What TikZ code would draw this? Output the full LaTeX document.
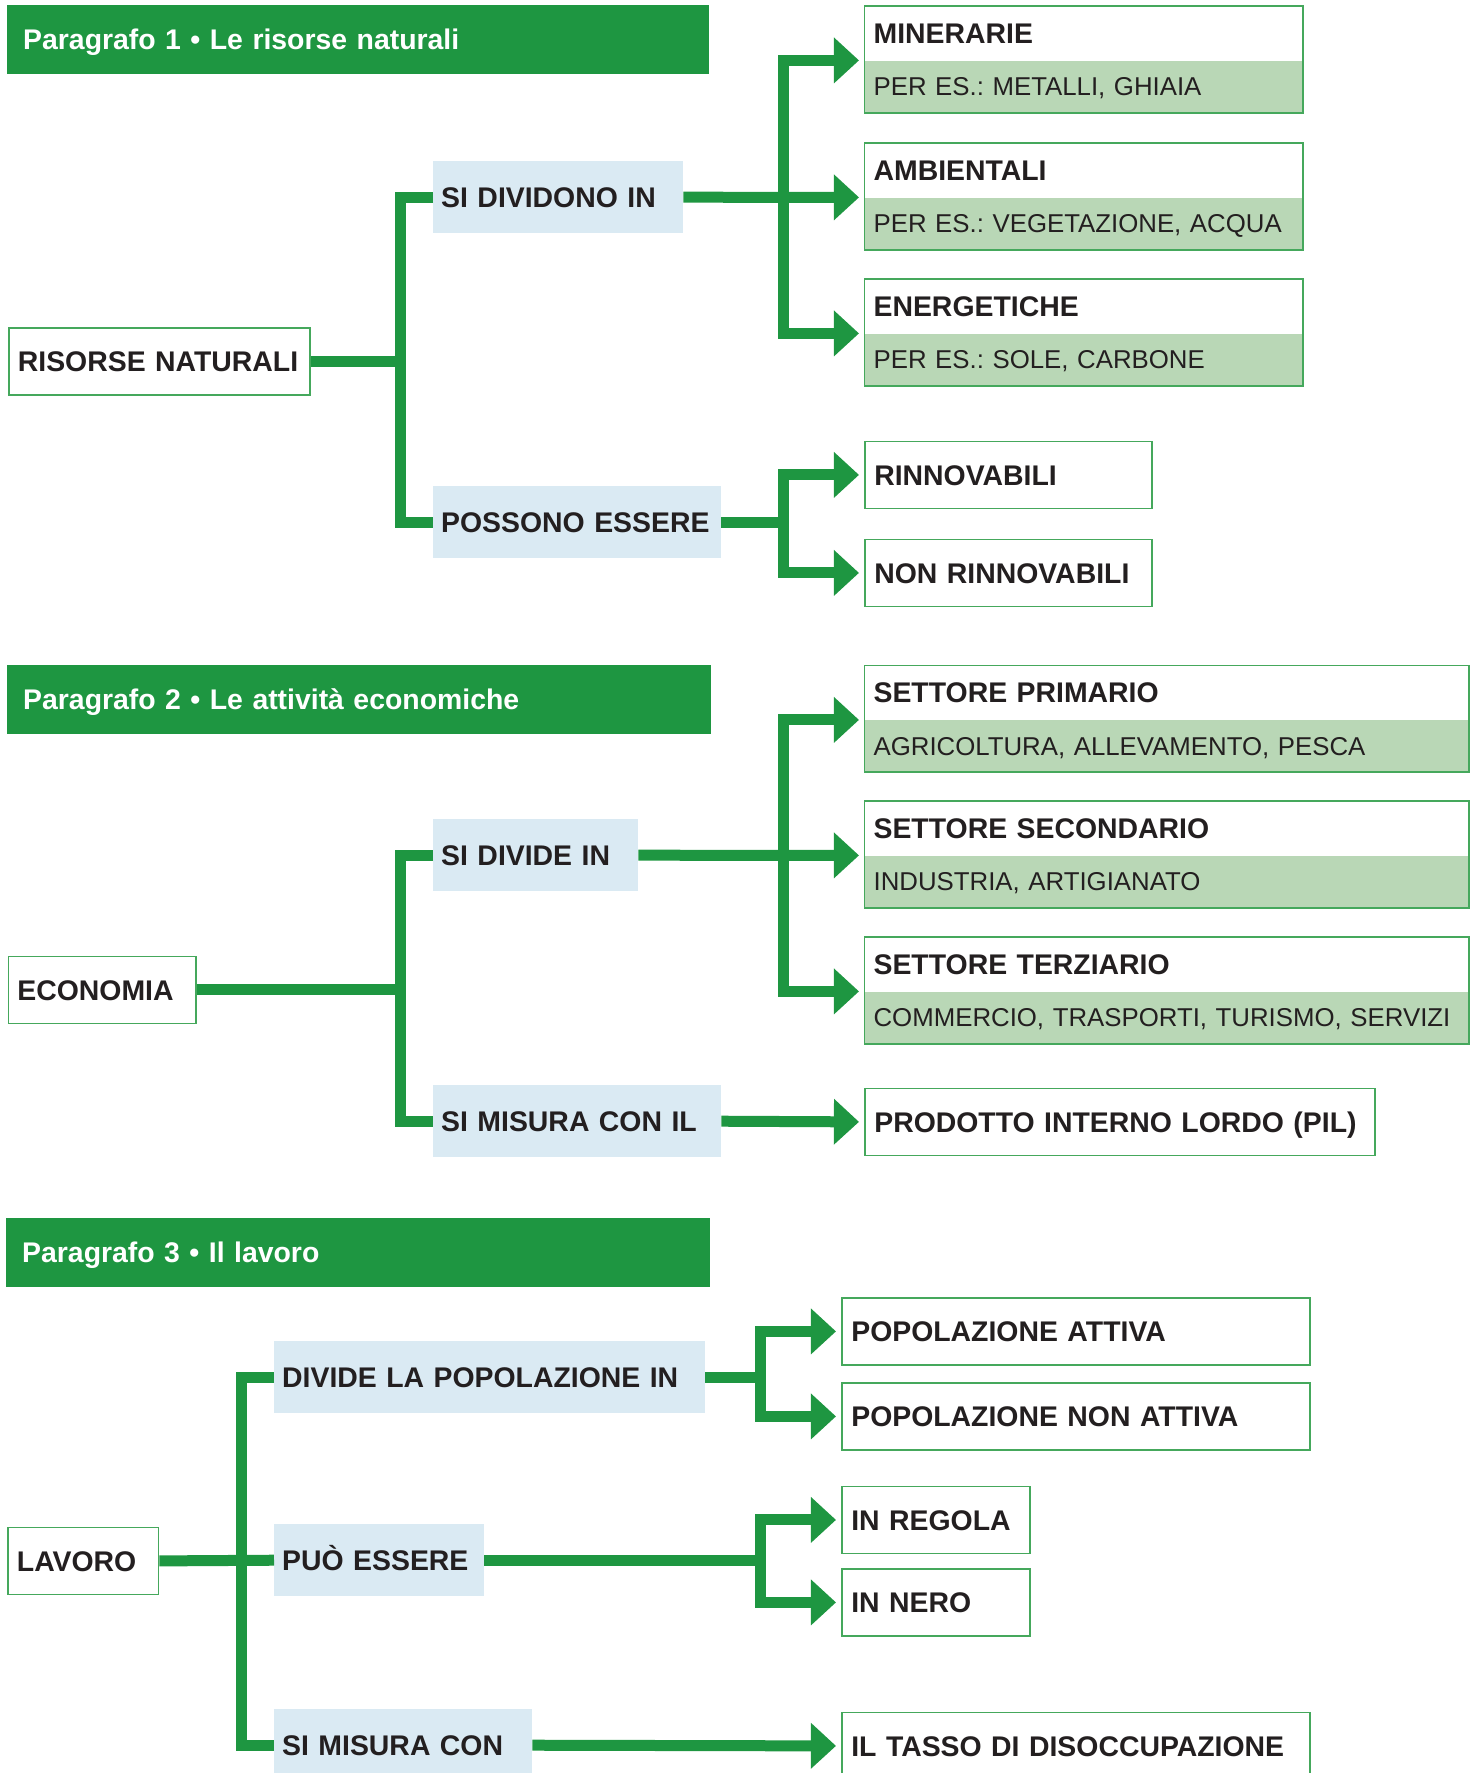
\documentclass[tikz,border=0pt]{standalone}
\usepackage{fontspec}
\setmainfont{Liberation Sans}
\usetikzlibrary{arrows.meta}
\definecolor{verde}{HTML}{1E9641}
\definecolor{bordo}{HTML}{45A85C}
\definecolor{azzurro}{HTML}{DAEAF3}
\definecolor{verdechiaro}{HTML}{B9D7B6}
\definecolor{testo}{HTML}{231F20}
\frenchspacing

\begin{document}
\begin{tikzpicture}[x=1pt,y=-1pt,
  titolo/.style={anchor=north west, fill=verde, text=white, font=\fontsize{28.4}{30}\selectfont\bfseries,
    inner xsep=16pt, inner ysep=0pt, minimum height=68.5pt, text height=20.4pt, text depth=0pt, align=left},
  nome/.style={anchor=north west, draw=bordo, line width=1.8pt, fill=white, text=testo,
    font=\fontsize{28.4}{30}\selectfont\bfseries, inner xsep=9pt, inner ysep=0pt,
    minimum height=67pt, text height=20.4pt, text depth=0pt, align=left, text width=#1},
  verbo/.style={anchor=north west, fill=azzurro, text=testo, font=\fontsize{28.4}{30}\selectfont\bfseries,
    inner xsep=8pt, inner ysep=0pt, minimum height=72pt, text height=20.4pt, text depth=0pt, align=left, text width=#1},
  cap/.style={anchor=north west, text=testo, font=\fontsize{28.4}{30}\selectfont\bfseries, inner xsep=9pt,
    inner ysep=0pt, minimum height=54pt, text height=20.4pt, text depth=0pt, align=left, text width=#1},
  corpo/.style={anchor=north west, fill=verdechiaro, text=testo, font=\fontsize{25.8}{28}\selectfont\frenchspacing, inner xsep=9pt,
    inner ysep=0pt, minimum height=52pt, text height=18.5pt, text depth=0pt, align=left, text width=#1},
  cornice/.style={draw=bordo, line width=1.8pt},
  conn/.style={draw=verde, line width=11pt},
  freccia/.style={conn, -{Triangle[length=25pt,width=46pt,line width=0pt]}, shorten >=5.5pt}]
\useasboundingbox (0,0) rectangle (1473,1773);
\clip (0,0) rectangle (1473,1773);

% paragrafo 1
\node[titolo, text width=670pt] (par1) at (7,5) {Paragrafo 1 • Le risorse naturali};
\node[nome=283pt] (risorse) at (8,327) {RISORSE NATURALI};
\node[verbo=234pt] (sidiv) at (433,161) {SI DIVIDONO IN};
\node[verbo=272pt] (possono) at (433,486) {POSSONO ESSERE};
\foreach \n/\t/\c/\y in {min/MINERARIE/{PER ES.: METALLI, GHIAIA}/6,
    amb/AMBIENTALI/{PER ES.: VEGETAZIONE, ACQUA}/143,
    ene/ENERGETICHE/{PER ES.: SOLE, CARBONE}/279} {
  \node[cap=420pt] (\n) at (864.4,\y) {\t};
  \node[corpo=420pt] (\n-b) at (\n.south west) {\c};
  \draw[cornice] (\n.north west) rectangle (\n-b.south east);
}
\node[nome=268.5pt] (rinn) at (864.4,440.5) {RINNOVABILI};
\node[nome=268.5pt] (nonrinn) at (864.4,538.5) {NON RINNOVABILI};

\coordinate (a1) at (400,0);
\coordinate (b1) at (783,0);
\draw[conn] (risorse.east) -- (risorse.east -| a1);
\draw[conn] (sidiv.west) -| (a1 |- possono.west) -- (possono.west);
\draw[freccia] (sidiv.east) -- (amb.south west);
\foreach \n in {min,ene} \draw[freccia] (sidiv.east -| b1) |- (\n.south west);
\draw[conn] (possono.east) -- (possono.east -| b1);
\foreach \n in {rinn,nonrinn} \draw[freccia] (possono.east -| b1) |- (\n.west);

% paragrafo 2
\node[titolo, text width=672pt] (par2) at (7,665) {Paragrafo 2 • Le attività economiche};
\node[nome=169.5pt] (economia) at (7.5,955.5) {ECONOMIA};
\node[verbo=189pt] (sidivide) at (433,819) {SI DIVIDE IN};
\node[verbo=272pt] (misura) at (433,1085) {SI MISURA CON IL};
\foreach \n/\t/\c/\y in {prim/SETTORE PRIMARIO/{AGRICOLTURA, ALLEVAMENTO, PESCA}/665.5,
    sec/SETTORE SECONDARIO/{INDUSTRIA, ARTIGIANATO}/801,
    ter/SETTORE TERZIARIO/{COMMERCIO, TRASPORTI, TURISMO, SERVIZI}/937} {
  \node[cap=586pt] (\n) at (864.4,\y) {\t};
  \node[corpo=586pt] (\n-b) at (\n.south west) {\c};
  \draw[cornice] (\n.north west) rectangle (\n-b.south east);
}
\node[nome=492pt] (pil) at (864.4,1087.5) {PRODOTTO INTERNO LORDO (PIL)};

\draw[conn] (economia.east) -- (economia.east -| a1);
\draw[conn] (sidivide.west) -| (a1 |- misura.west) -- (misura.west);
\draw[freccia] (sidivide.east) -- (sec.south west);
\foreach \n in {prim,ter} \draw[freccia] (sidivide.east -| b1) |- (\n.south west);
\draw[freccia] (misura.east) -- (pil.west);

% paragrafo 3
\node[titolo, text width=672pt] (par3) at (6,1218) {Paragrafo 3 • Il lavoro};
\node[nome=132.6pt] (lavoro) at (7,1526.5) {LAVORO};
\node[verbo=415pt] (dividi) at (274,1341) {DIVIDE LA POPOLAZIONE IN};
\node[verbo=194pt] (puo) at (274,1524) {PUÒ ESSERE};
\node[verbo=242pt] (misuracon) at (274,1709) {SI MISURA CON};
\node[nome=449.6pt] (attiva) at (841.4,1297) {POPOLAZIONE ATTIVA};
\node[nome=449.6pt] (nonattiva) at (841.4,1382) {POPOLAZIONE NON ATTIVA};
\node[nome=170pt] (regola) at (841.4,1485.5) {IN REGOLA};
\node[nome=170pt] (nero) at (841.4,1568) {IN NERO};
\node[nome=449.6pt] (tasso) at (841.4,1711.5) {IL TASSO DI DISOCCUPAZIONE};

\coordinate (a3) at (241,0);
\coordinate (b3) at (760,0);
\draw[conn] (lavoro.east) -- (puo.west);
\draw[conn] (dividi.west) -| (a3 |- misuracon.west) -- (misuracon.west);
\draw[conn] (dividi.east) -- (dividi.east -| b3);
\foreach \n in {attiva,nonattiva} \draw[freccia] (dividi.east -| b3) |- (\n.west);
\draw[conn] (puo.east) -- (puo.east -| b3);
\foreach \n in {regola,nero} \draw[freccia] (puo.east -| b3) |- (\n.west);
\draw[freccia] (misuracon.east) -- (tasso.west);
\end{tikzpicture}
\end{document}
